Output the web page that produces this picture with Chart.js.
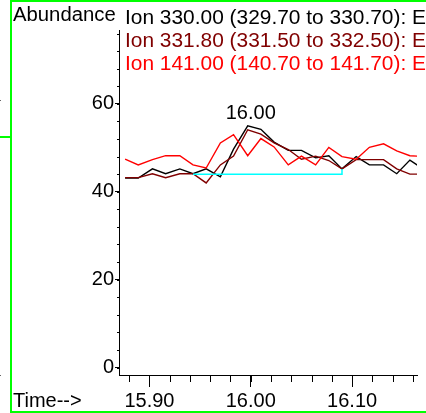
<!DOCTYPE html>
<html><head><meta charset="utf-8">
<script src="https://cdn.jsdelivr.net/npm/chart.js@4"></script>
<style>html,body{margin:0;padding:0;background:#fff;overflow:hidden}#wrap{width:426px;height:413px;position:relative}</style>
</head><body><div id="wrap"><canvas id="c" width="426" height="413"></canvas></div>
<script>
// ---- data ----
const times  = [15.876, 15.889, 15.903, 15.916, 15.930, 15.943, 15.956, 15.970, 15.983, 15.997, 16.010, 16.023, 16.037, 16.050, 16.064, 16.077, 16.090, 16.104, 16.117, 16.131, 16.144, 16.157, 16.171];
const ion330 = [43.1, 43.1, 45.2, 44.1, 45.2, 44.1, 45.2, 43.4, 49.7, 55.0, 54.2, 51.3, 49.4, 49.4, 47.7, 48.2, 45.2, 48.0, 46.1, 46.1, 44.1, 47.2, 45.0];
const ion331 = [43.2, 43.2, 44.1, 43.2, 44.1, 44.1, 42.0, 46.1, 48.1, 54.1, 53.1, 51.1, 49.6, 47.4, 48.1, 47.1, 45.2, 47.3, 47.3, 47.3, 45.2, 44.0, 44.0];
const ion141 = [47.4, 46.1, 47.3, 48.2, 48.2, 46.1, 45.4, 51.1, 53.0, 48.2, 52.1, 50.2, 46.1, 48.1, 46.1, 50.1, 48.0, 47.4, 50.1, 50.9, 49.3, 48.2, 48.0];
const baseX  = [15.943, 16.090, 16.090];
const baseY  = [44.0, 44.0, 45.2];
const xTicks = [15.90, 16.00, 16.10];
const yTicks = [0, 20, 40, 60];
const xMinorTicks = [15.88, 15.90, 15.92, 15.94, 15.96, 15.98, 16.00, 16.02, 16.04, 16.06, 16.08, 16.10, 16.12, 16.14, 16.16];
const yMinorTicks = [0, 4, 8, 12, 16, 20, 24, 28, 32, 36, 40, 44, 48, 52, 56, 60, 64, 68, 72, 76];
const peakLabel = "16.00";
const peakTime = 16.00;
const legendLines = [
  {text: "Ion 330.00 (329.70 to 330.70): E", color: "#000000"},
  {text: "Ion 331.80 (331.50 to 332.50): E", color: "#800000"},
  {text: "Ion 141.00 (140.70 to 141.70): E", color: "#FF0000"}
];
const yTitle = "Abundance";
const xTitle = "Time-->";

const FONT = "'Liberation Sans', Arial, sans-serif";
const pts = (xs, ys) => xs.map((x, i) => ({x: x, y: ys[i]}));

const decor = {
  id: 'decor',
  afterDraw(chart) {
    const ctx = chart.ctx, xs = chart.scales.x, ys = chart.scales.y;
    ctx.save();
    // minor ticks
    ctx.strokeStyle = '#000'; ctx.lineWidth = 1;
    ctx.beginPath();
    yMinorTicks.forEach(v => {
      const y = Math.round(ys.getPixelForValue(v)) + 0.5;
      ctx.moveTo(xs.left - 2, y); ctx.lineTo(xs.left, y);
    });
    xMinorTicks.forEach(v => {
      const x = Math.round(xs.getPixelForValue(v)) + 0.5;
      ctx.moveTo(x, ys.bottom); ctx.lineTo(x, ys.bottom + 7);
    });
    ctx.stroke();
    // texts
    ctx.font = '20px ' + FONT;
    ctx.textBaseline = 'alphabetic';
    ctx.textAlign = 'left';
    ctx.fillStyle = '#000';
    ctx.save();
    ctx.scale(1.015, 1);
    ctx.fillText(yTitle, 13 / 1.015, 21);
    ctx.restore();
    ctx.save();
    const sx = 1.045;
    ctx.scale(sx, 1);
    legendLines.forEach((l, i) => {
      ctx.fillStyle = l.color;
      ctx.fillText(l.text, 125 / sx, 23.5 + i * 23.4);
    });
    ctx.restore();
    ctx.fillStyle = '#000';
    ctx.fillText(xTitle, 13, 407);
    // peak label
    ctx.textAlign = 'center';
    const px = xs.getPixelForValue(peakTime);
    const py = ys.getPixelForValue(Math.max.apply(null, ion330)) - 7;
    ctx.fillText(peakLabel, px, py);
    // green frame
    ctx.fillStyle = '#00FF00';
    ctx.fillRect(10, 0, 2, 413);
    ctx.fillRect(10, 0, 416, 2);
    ctx.fillRect(10, 411, 416, 2);
    ctx.fillRect(0, 136, 10, 2);
    ctx.fillStyle = '#666';
    ctx.fillRect(0, 100, 1, 1);
    ctx.fillRect(0, 375, 1, 1);
    ctx.restore();
  }
};

new Chart(document.getElementById('c'), {
  type: 'line',
  data: {
    datasets: [
      {label: 'baseline', data: pts(baseX, baseY), borderColor: '#00FFFF', borderWidth: 1.5, pointRadius: 0, tension: 0, order: 0},
      {label: legendLines[2].text, data: pts(times, ion141), borderColor: '#FF0000', borderWidth: 1.4, pointRadius: 0, tension: 0, order: 1},
      {label: legendLines[1].text, data: pts(times, ion331), borderColor: '#800000', borderWidth: 1.4, pointRadius: 0, tension: 0, order: 2},
      {label: legendLines[0].text, data: pts(times, ion330), borderColor: '#000000', borderWidth: 1.4, pointRadius: 0, tension: 0, order: 3}
    ]
  },
  options: {
    responsive: false,
    animation: false,
    events: [],
    layout: {padding: {top: 30, right: 9, left: 0, bottom: 0}},
    plugins: {legend: {display: false}, tooltip: {enabled: false}},
    scales: {
      x: {
        type: 'linear', min: 15.870, max: 16.164,
        afterBuildTicks: s => { s.ticks = xTicks.map(v => ({value: v})); },
        afterFit: s => { s.height = 38; },
        ticks: {font: {family: FONT, size: 20}, color: '#000', padding: 2, maxRotation: 0, autoSkip: false,
                callback: v => Number(v).toFixed(2)},
        grid: {display: true, drawOnChartArea: false, drawTicks: true, tickLength: 12, color: '#000', lineWidth: 1},
        border: {display: true, color: '#000', width: 1}
      },
      y: {
        type: 'linear', min: -1.7, max: 76.8,
        afterBuildTicks: s => { s.ticks = yTicks.map(v => ({value: v})); },
        afterFit: s => { s.width = 119; },
        ticks: {font: {family: FONT, size: 20}, color: '#000', padding: 1, autoSkip: false,
                callback: v => String(v)},
        grid: {display: true, drawOnChartArea: false, drawTicks: true, tickLength: 4, color: '#000', lineWidth: 1},
        border: {display: true, color: '#000', width: 1}
      }
    }
  },
  plugins: [decor]
});
</script>
</body></html>
